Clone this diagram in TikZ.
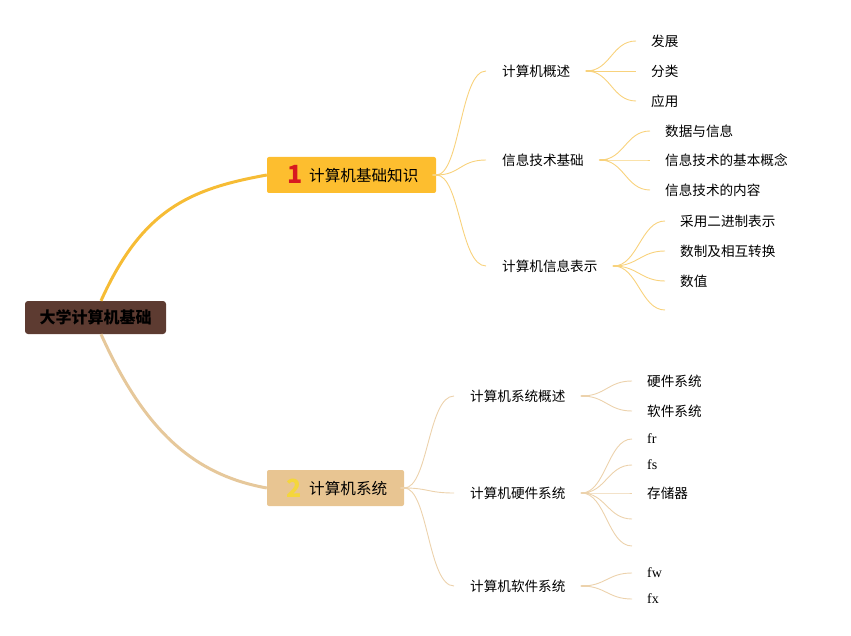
\documentclass[tikz,border=0pt]{standalone}
\usepackage{fontspec}
\setmainfont{Noto Sans CJK SC}
\newfontfamily\latserif{Liberation Serif}
\definecolor{rootfill}{HTML}{5D3B31}
\definecolor{boxA}{HTML}{FDBE2F}
\definecolor{boxB}{HTML}{E8C592}
\definecolor{mainA}{HTML}{F6BC35}
\definecolor{mainB}{HTML}{E6C89B}
\definecolor{subA}{HTML}{F8D27C}
\definecolor{subB}{HTML}{ECD2AC}
\definecolor{numred}{HTML}{D71920}
\definecolor{numyel}{HTML}{F4D63C}
\begin{document}
\begin{tikzpicture}[x=1pt,y=-1pt,
  rootbox/.style={fill=rootfill,rounded corners=3pt,minimum width=141pt,minimum height=33pt,inner sep=0pt,font=\fontsize{16}{19}\selectfont\bfseries,text=black},
  box1/.style={fill=boxA,rounded corners=2pt,minimum width=169pt,minimum height=36pt,inner sep=0pt},
  box2/.style={fill=boxB,rounded corners=2pt,minimum width=137pt,minimum height=36pt,inner sep=0pt},
  numtxt/.style={inner sep=0pt,font=\fontsize{25}{28}\selectfont\bfseries},
  bigtxt/.style={anchor=west,inner sep=0pt,font=\fontsize{15.6}{18}\selectfont},
  midnode/.style={anchor=west,inner xsep=16pt,inner ysep=0pt,font=\fontsize{13.6}{16}\selectfont},
  leafnode/.style={anchor=west,inner xsep=15pt,inner ysep=0pt,font=\fontsize{13.6}{16}\selectfont},
  latleaf/.style={leafnode,font=\fontsize{14}{16}\latserif},
  mainlineA/.style={draw=mainA,line width=3pt},
  mainlineB/.style={draw=mainB,line width=3pt},
  subline/.style={line width=0.9pt},
  knob/.style={line width=2.6pt,line cap=round}
]
\useasboundingbox (0,0) rectangle (851,636);

% root and level 1
\node[rootbox] (root) at (95.5,317.5) {大学计算机基础};
\node[box1] (b1) at (351.5,175) {};
\node[box2] (b2) at (335.5,488) {};
\node[numtxt,text=numred] (n1) at (295,174) {1};
\node[bigtxt] (t1) at (309,176) {计算机基础知识};
\node[numtxt,text=numyel] (n2) at (294,488) {2};
\node[bigtxt] (t2) at (309,489) {计算机系统};

\draw[mainlineA] ([xshift=5.5pt]root.north) .. controls (142,210) and (189,189) .. (b1.west);
\draw[mainlineB] ([xshift=5.5pt]root.south) .. controls (142,425) and (189,474) .. (b2.west);

% level 2, branch 1
\node[midnode] (c11) at (486,71) {计算机概述};
\node[midnode] (c12) at (486,160) {信息技术基础};
\node[midnode] (c13) at (486,266) {计算机信息表示};
% level 2, branch 2
\node[midnode] (c21) at (454,396) {计算机系统概述};
\node[midnode] (c22) at (454,493) {计算机硬件系统};
\node[midnode] (c23) at (454,586) {计算机软件系统};

% leaves branch 1
\node[leafnode] (d111) at (636,41) {发展};
\node[leafnode] (d112) at (636,71) {分类};
\node[leafnode] (d113) at (636,101) {应用};
\node[leafnode] (d121) at (650,131) {数据与信息};
\node[leafnode] (d122) at (650,160) {信息技术的基本概念};
\node[leafnode] (d123) at (650,190) {信息技术的内容};
\node[leafnode] (d131) at (665,221) {采用二进制表示};
\node[leafnode] (d132) at (665,251) {数制及相互转换};
\node[leafnode] (d133) at (665,281) {数值};
\node[leafnode] (d134) at (665,310) {};
% leaves branch 2
\node[leafnode] (d211) at (632,381) {硬件系统};
\node[leafnode] (d212) at (632,411) {软件系统};
\node[latleaf] (d221) at (632,439) {fr};
\node[latleaf] (d222) at (632,465) {fs};
\node[leafnode] (d223) at (632,493) {存储器};
\node[leafnode] (d224) at (632,519) {};
\node[leafnode] (d225) at (632,546) {};
\node[latleaf] (d231) at (632,573) {fw};
\node[latleaf] (d232) at (632,599) {fx};

% connectors level 1 -> 2
\foreach \c in {c11,c12,c13}{
  \draw[subline,draw=subA] (b1.east) .. controls +(24,0) and +(-26,0) .. (\c.west);
}
\foreach \c in {c21,c22,c23}{
  \draw[subline,draw=subB] (b2.east) .. controls +(24,0) and +(-26,0) .. (\c.west);
}
\draw[knob,draw=subA] ([xshift=-3pt]b1.east) -- ++(6,0);
\draw[knob,draw=subB] ([xshift=-3pt]b2.east) -- ++(6,0);

% connectors level 2 -> 3
\foreach \p/\ls in {c11/{d111,d112,d113},c12/{d121,d122,d123},c13/{d131,d132,d133,d134}}{
  \draw[knob,draw=subA] (\p.east) -- ++(7,0);
  \foreach \l in \ls {
    \draw[subline,draw=subA] (\p.east) .. controls +(24,0) and +(-24,0) .. (\l.west);
  }
}
\foreach \p/\ls in {c21/{d211,d212},c22/{d221,d222,d223,d224,d225},c23/{d231,d232}}{
  \draw[knob,draw=subB] (\p.east) -- ++(7,0);
  \foreach \l in \ls {
    \draw[subline,draw=subB] (\p.east) .. controls +(24,0) and +(-24,0) .. (\l.west);
  }
}
\end{tikzpicture}
\end{document}
